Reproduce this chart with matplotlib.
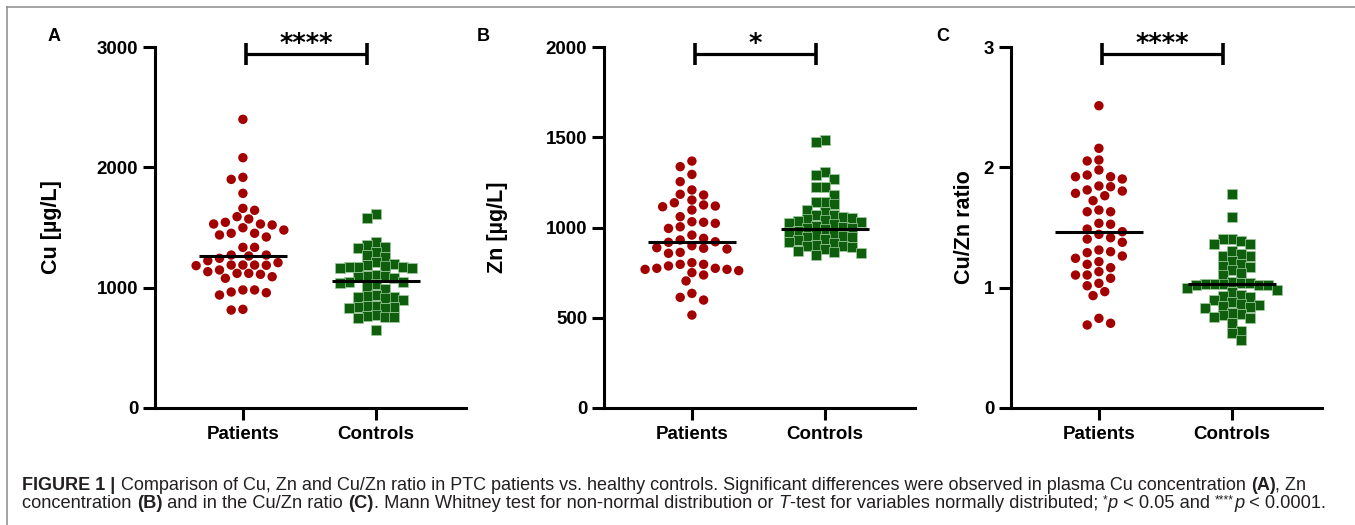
import matplotlib
matplotlib.use('Agg')
import matplotlib.pyplot as plt
from matplotlib.lines import Line2D
import numpy as np

# ---------------- data ----------------
groups = ["Patients", "Controls"]

cu_patients = [2399, 2080, 1900, 1917, 1784, 1659, 1643, 1590, 1571, 1529, 1529, 1521,
               1543, 1498, 1479, 1452, 1438, 1452, 1421, 1335, 1335, 1271, 1244, 1263,
               1271, 1224, 1188, 1208, 1186, 1188, 1188, 1183, 1147, 1119, 1078, 1091,
               1111, 1119, 1133, 958, 939, 981, 964, 981, 814, 820]
cu_controls = [1609, 1576, 1382, 1355, 1340, 1327, 1299, 1271, 1257, 1216, 1200, 1190,
               1180, 1174, 1174, 1170, 1165, 1160, 1105, 1100, 1095, 1085, 1080, 1050,
               1045, 1040, 1030, 1008, 990, 940, 930, 925, 920, 910, 900, 850, 845, 842,
               840, 835, 830, 770, 765, 760, 755, 750, 648]

zn_patients = [1368, 1337, 1294, 1254, 1208, 1184, 1180, 1152, 1137, 1119, 1097, 1115,
               1125, 1060, 1032, 1029, 1023, 1004, 995, 958, 940, 931, 921, 918, 899,
               888, 885, 881, 862, 857, 805, 796, 796, 787, 774, 774, 768, 768, 761, 750,
               737, 704, 635, 613, 598, 515]
zn_controls = [1485, 1475, 1309, 1291, 1269, 1226, 1226, 1180, 1143, 1140, 1130, 1097,
               1088, 1069, 1069, 1060, 1050, 1045, 1040, 1035, 1030, 1025, 1020, 1010,
               1005, 1000, 995, 990, 980, 975, 965, 960, 955, 950, 945, 935, 930, 920,
               915, 905, 900, 895, 890, 880, 870, 865, 860, 850]

ratio_patients = [2.512, 2.158, 2.061, 2.053, 1.922, 1.922, 1.936, 1.978, 1.903, 1.845,
                  1.839, 1.812, 1.784, 1.803, 1.764, 1.723, 1.645, 1.631, 1.631, 1.535,
                  1.527, 1.487, 1.465, 1.443, 1.404, 1.415, 1.377, 1.313, 1.291, 1.299,
                  1.244, 1.263, 1.216, 1.194, 1.166, 1.133, 1.105, 1.105, 1.078, 1.036,
                  1.016, 0.967, 0.934, 0.745, 0.690, 0.704]
ratio_controls = [1.776, 1.585, 1.404, 1.404, 1.363, 1.390, 1.363, 1.266, 1.307, 1.260,
                  1.277, 1.224, 1.197, 1.174, 1.180, 1.147, 1.105, 1.120, 1.045, 1.040,
                  1.035, 1.030, 1.030, 1.030, 1.025, 1.020, 1.020, 1.000, 0.980, 0.960,
                  0.939, 0.930, 0.920, 0.900, 0.880, 0.862, 0.860, 0.850, 0.840, 0.830,
                  0.781, 0.790, 0.770, 0.760, 0.745, 0.704, 0.640, 0.621, 0.565]

cu_centre = [1263, 1055]
zn_centre = [921, 992]
ratio_centre = [1.46, 1.03]

panel_letters = ["A", "B", "C"]
y_labels = ["Cu [µg/L]", "Zn [µg/L]", "Cu/Zn ratio"]
y_ticks = [[0, 1000, 2000, 3000], [0, 500, 1000, 1500, 2000], [0, 1, 2, 3]]
significance = ["****", "*", "****"]

caption_line1 = [("FIGURE 1 | ", "bold"),
                 ("Comparison of Cu, Zn and Cu/Zn ratio in PTC patients vs. healthy controls. "
                  "Significant differences were observed in plasma Cu concentration ", "normal"),
                 ("(A)", "bold"), (", Zn", "normal")]
caption_line2 = [("concentration ", "normal"), ("(B)", "bold"),
                 (" and in the Cu/Zn ratio ", "normal"), ("(C)", "bold"),
                 (". Mann Whitney test for non-normal distribution or ", "normal"),
                 ("T", "italic"), ("-test for variables normally distributed; ", "normal"),
                 ("*", "sup"), ("p", "italic"), (" < 0.05 and ", "normal"),
                 ("****", "sup"), ("p", "italic"), (" < 0.0001.", "normal")]

# ---------------- styling ----------------
plt.rcParams['font.family'] = ['Liberation Sans', 'DejaVu Sans']
RED = '#A30000'
GREEN = '#0E5E0E'
W, H = 1355, 525
fig = plt.figure(figsize=(W / 100, H / 100), dpi=100)

panels = [
    (cu_patients, cu_controls, cu_centre, (0, 3000)),
    (zn_patients, zn_controls, zn_centre, (0, 2000)),
    (ratio_patients, ratio_controls, ratio_centre, (0, 3)),
]
ax_left_px = [155, 604, 1011]
ax_w_px = 311
ax_top_px, ax_bot_px = 47, 408
ylabel_x = [-0.334, -0.341, -0.148]
letter_x_px = [48, 477, 936]


def swarm_offsets(ax, values, shape):
    """beeswarm layout in pixel space, returned in data units of x"""
    p0 = ax.transData.transform((0, 0))
    p1 = ax.transData.transform((1, 1))
    sx = p1[0] - p0[0]
    sy = p1[1] - p0[1]
    vals = np.asarray(values, float)
    order = np.argsort(-vals)
    step = 5.85 if shape == 'o' else 4.5
    placed = []
    offs = np.zeros(len(vals))
    flip = 1
    for i in order:
        y = vals[i] * sy
        chosen = None
        for k in range(0, 60):
            cands = [0.0] if k == 0 else [flip * k * step, -flip * k * step]
            for off in cands:
                ok = True
                for (px, py) in placed:
                    dx = off - px
                    dy = y - py
                    if shape == 'o':
                        if dx * dx + dy * dy < 9.9 ** 2:
                            ok = False
                            break
                    else:
                        if abs(dx) < 8.6 and abs(dy) < 8.6:
                            ok = False
                            break
                if ok:
                    chosen = off
                    break
            if chosen is not None:
                break
        flip = -flip
        placed.append((chosen, y))
        offs[i] = chosen / sx
    return offs


for idx, (pat, con, centre, ylim) in enumerate(panels):
    left = ax_left_px[idx] / W
    bottom = 1 - ax_bot_px / H
    ax = fig.add_axes([left, bottom, ax_w_px / W, (ax_bot_px - ax_top_px) / H])
    ax.set_xlim(0.34, 2.675)
    ax.set_ylim(*ylim)
    for s in ['top', 'right']:
        ax.spines[s].set_visible(False)
    for s in ['left', 'bottom']:
        ax.spines[s].set_linewidth(2.2)
        ax.spines[s].set_color('black')
    ax.set_xticks([1, 2])
    ax.set_xticklabels(groups, fontsize=13.5, fontweight='bold')
    ax.set_yticks(y_ticks[idx])
    ax.set_yticklabels([str(t) for t in y_ticks[idx]], fontsize=13.5, fontweight='bold')
    ax.tick_params(axis='both', direction='out', length=8.5, width=2.2, color='black')
    ax.tick_params(axis='y', pad=3.6)
    ax.tick_params(axis='x', pad=4.3)
    ax.set_ylabel(y_labels[idx], fontsize=15.5, fontweight='bold', va='center')
    ax.yaxis.set_label_coords(ylabel_x[idx], 0.5)

    # points
    off_p = swarm_offsets(ax, pat, 'o')
    ax.scatter(1 + off_p, pat, s=46, marker='o', color=RED, edgecolors='none',
               zorder=3, clip_on=False)
    off_c = swarm_offsets(ax, con, 's')
    ax.scatter(2 + off_c, con, s=44, marker='s', color=GREEN,
               edgecolors=(0.62, 0.80, 0.62), linewidths=0.5, zorder=3, clip_on=False)
    # centre lines
    for gx, c in zip([1, 2], centre):
        ax.plot([gx - 0.33, gx + 0.33], [c, c], color='black', lw=2.2, zorder=4,
                solid_capstyle='butt')

    # significance bracket
    tr = ax.get_xaxis_transform()
    x1, x2 = 1.02, 1.93
    ax.plot([x1, x2], [0.981, 0.981], color='black', lw=2.3, transform=tr,
            clip_on=False, solid_capstyle='butt')
    for xx in (x1, x2):
        ax.plot([xx, xx], [0.950, 1.012], color='black', lw=2.6, transform=tr,
                clip_on=False, solid_capstyle='butt')
    ax.text((x1 + x2) / 2, 0.986, significance[idx], transform=tr, ha='center',
            va='baseline', fontsize=18.5, fontweight='bold', family='DejaVu Sans')

    fig.text(letter_x_px[idx] / W, 1 - 41 / H, panel_letters[idx], fontsize=13,
             fontweight='bold', ha='left', va='baseline')

# frame lines
fig.add_artist(Line2D([7 / W, 7 / W], [0, 1 - 7 / H], transform=fig.transFigure,
                      color='#8a8a8a', lw=1.1))
fig.add_artist(Line2D([7 / W, 1], [1 - 7 / H, 1 - 7 / H], transform=fig.transFigure,
                      color='#8a8a8a', lw=1.1))

# caption
renderer = fig.canvas.get_renderer()


def piece_kw(style, size):
    kw = dict(fontsize=size, color='#231F20')
    if style == 'bold':
        kw['fontweight'] = 'bold'
    elif style == 'italic':
        kw['fontstyle'] = 'italic'
    elif style == 'sup':
        kw['fontsize'] = size * 0.65
    return kw


def measure(txt, kw):
    t1 = fig.text(0, 0, '|' + txt + '|', **kw)
    t2 = fig.text(0, 0, '||', **kw)
    w = t1.get_window_extent(renderer).width - t2.get_window_extent(renderer).width
    t1.remove()
    t2.remove()
    return w


def line_width(pieces, size):
    return sum(measure(t, piece_kw(s, size)) for t, s in pieces)


def draw_line(pieces, x_px, base_px, size):
    x = x_px
    for txt, style in pieces:
        kw = piece_kw(style, size)
        yb = base_px - (5 if style == 'sup' else 0)
        fig.text(x / W, 1 - yb / H, txt, ha='left', va='baseline', **kw)
        x += measure(txt, kw)


size0 = 10.0
cap_size1 = size0 * (1308 - 22.5) / line_width(caption_line1, size0)
cap_size2 = size0 * (1333 - 22.5) / line_width(caption_line2, size0)
draw_line(caption_line1, 22.5, 490, cap_size1)
draw_line(caption_line2, 22.5, 508.5, cap_size2)

fig.savefig('out.png', dpi=100, facecolor='white')
